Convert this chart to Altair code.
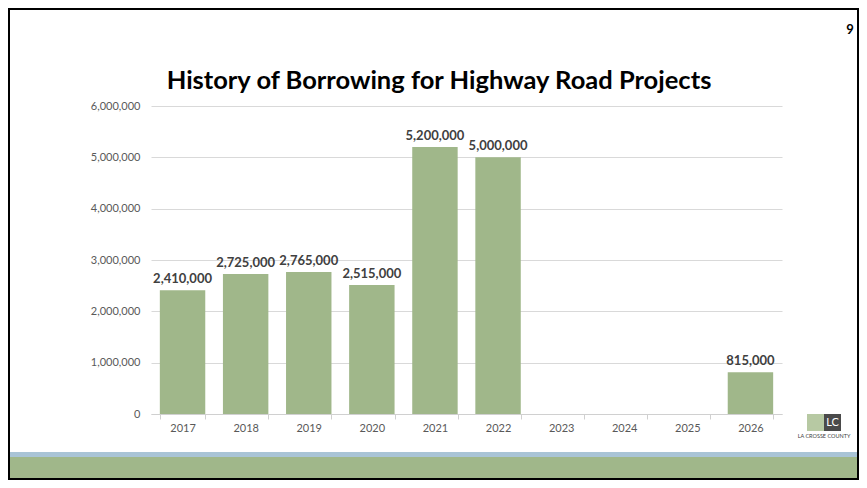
import altair as alt
import pandas as pd

years = ["2017", "2018", "2019", "2020", "2021", "2022", "2023", "2024", "2025", "2026"]
amounts = [2410000, 2725000, 2765000, 2515000, 5200000, 5000000, None, None, None, 815000]
title_text = "History of Borrowing for Highway Road Projects"
page_no = "9"

df = pd.DataFrame({"year": years, "amount": amounts})
df["label"] = [f"{v:,.0f}" if v is not None and v == v else "" for v in df["amount"]]

BAR = "#A0B78A"
FONT = "Lato"

# plot area placement (svg coordinates; page adds an 8px margin)
W, H = 631, 308
PL, PT = 143, 98
TOTW, TOTH = 851, 472

xenc = alt.X("year:O", sort=years, title=None,
             scale=alt.Scale(paddingInner=0.28, paddingOuter=0.14),
             axis=alt.Axis(labelAngle=0, labelFont=FONT, labelFontSize=11, labelColor="#595959",
                           domainColor="#D0D0D0", tickColor="#D0D0D0", tickSize=5,
                           tickBand="extent", labelPadding=3, grid=False))
yenc = alt.Y("amount:Q", title=None,
             scale=alt.Scale(domain=[0, 6000000]),
             axis=alt.Axis(values=[0, 1000000, 2000000, 3000000, 4000000, 5000000, 6000000],
                           format=",.0f", labelFont=FONT, labelFontSize=11, labelColor="#595959",
                           domain=False, ticks=False, labelPadding=11,
                           gridColor="#D9D9D9", gridWidth=1))

base = alt.Chart(df)
bars = base.mark_bar(color=BAR).encode(x=xenc, y=yenc)
labels = base.mark_text(font=FONT, fontSize=13, fontWeight="bold", color="#404040",
                        baseline="bottom", dy=-4).encode(
    x=alt.X("year:O", sort=years), y=alt.Y("amount:Q"), text="label:N")

one = alt.Chart(pd.DataFrame({"a": [0]}))

def rect(x, x2, y, y2, color, **kw):
    return one.mark_rect(color=color, **kw).encode(
        x=alt.value(x), x2=alt.value(x2), y=alt.value(y), y2=alt.value(y2))

def txt(x, y, s, **kw):
    return one.mark_text(**kw).encode(x=alt.value(x), y=alt.value(y), text=alt.value(s))

blue_band = rect(-PL + 1, TOTW - PL - 1, 346, 351, "#A9C4D6")
green_band = rect(-PL + 1, TOTW - PL - 1, 351, TOTH - PT - 1, BAR)
border = one.mark_rect(fill=None, stroke="black", strokeWidth=2).encode(
    x=alt.value(-PL + 1), x2=alt.value(TOTW - PL - 1), y=alt.value(-PT + 1), y2=alt.value(TOTH - PT - 1))

title = txt(288, -17, title_text, font=FONT, fontSize=25.5, fontWeight="bold", color="black",
            align="center", baseline="alphabetic")
page = txt(699, -72, page_no, font=FONT, fontSize=13, fontWeight="bold", color="black",
           align="center", baseline="alphabetic")

logo_green = rect(656, 673, 308, 325, "#B7C9A3")
logo_gray = rect(673, 690, 308, 325, "#4A4A4A")
logo_lc = txt(681.5, 317, "LC", font=FONT, fontSize=11, color="white", align="center", baseline="middle")
logo_name = txt(673, 330, "LA CROSSE COUNTY", font=FONT, fontSize=5.5, color="#404040",
                align="center", baseline="middle")

chart = alt.layer(
    bars, labels, green_band, blue_band, border, title, page,
    logo_green, logo_gray, logo_lc, logo_name
).properties(
    width=W, height=H,
    autosize=alt.AutoSizeParams(type="none"),
    padding={"left": PL, "top": PT, "right": TOTW - PL - W, "bottom": TOTH - PT - H},
    background="white"
).configure_view(stroke=None)

chart.save("out.html", embed_options={"renderer": "svg", "actions": False})
